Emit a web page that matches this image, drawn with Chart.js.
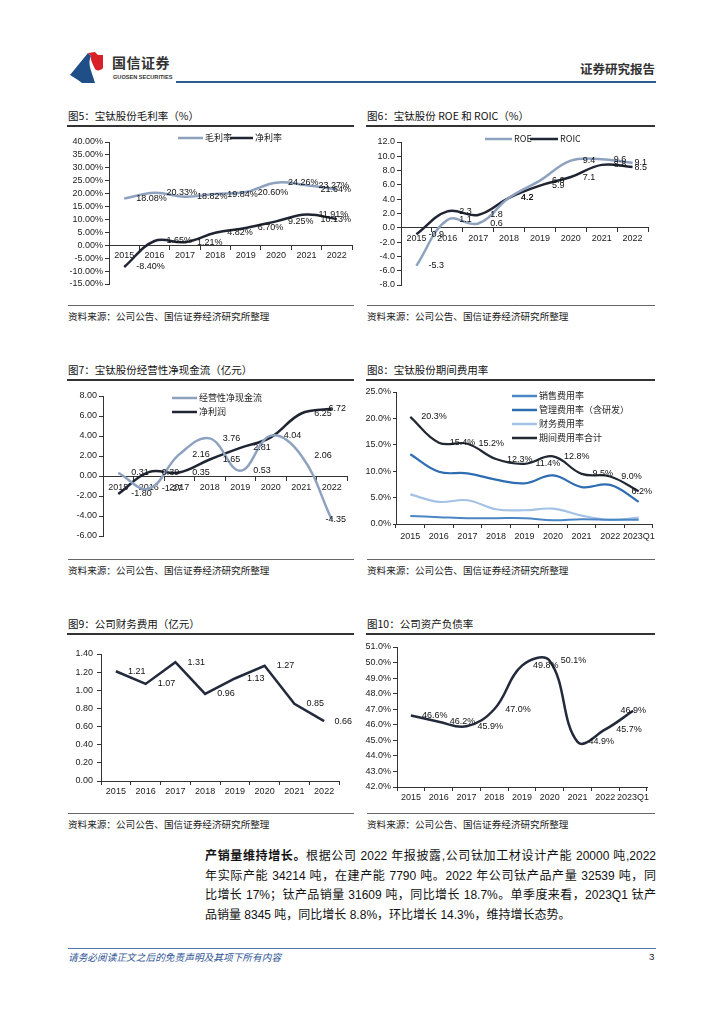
<!DOCTYPE html>
<html><head><meta charset="utf-8">
<script src="https://cdn.jsdelivr.net/npm/chart.js@4.4.1/dist/chart.umd.min.js"></script>
<style>
html,body{margin:0;padding:0;background:#fff;}
#page{position:relative;width:724px;height:1024px;overflow:hidden;font-family:"Noto Sans CJK SC","Liberation Sans",sans-serif;color:#222;background:#fff;}
.abs{position:absolute;white-space:nowrap;}
.title{font-size:10.5px;line-height:14px;color:#111;}
.rule{position:absolute;height:1.5px;background:#333;}
.sep{position:absolute;height:1px;background:#666;}
.src{font-size:9.6px;line-height:12px;color:#222;}
canvas{position:absolute;}
.para{position:absolute;left:205px;width:451px;font-size:12px;line-height:19.5px;font-family:"Liberation Sans","Noto Sans CJK SC",sans-serif;color:#111;}
.para div{text-align:justify;text-align-last:justify;}
.para div.last{text-align:left;text-align-last:left;}
</style>
</head>
<body>
<div id="page">
  <!-- header -->
  <svg class="abs" style="left:68px;top:50px" width="40" height="36" viewBox="0 0 40 36">
    <path d="M2,25 L20,3 L23,6 C19,14 24,22 27,33 L14,33 L10,30 Z" fill="#1f4f86"/>
    <path d="M20,3 L27,2 L30,5 L35,5 L35,18 C31,22 28,20 27,19 C25,14 22,10 23,6 Z" fill="#d7202a"/>
  </svg>
  <div class="abs" style="left:112px;top:53px;font-size:14px;line-height:18px;font-weight:bold;color:#333;letter-spacing:0.5px">国信证券</div>
  <div class="abs" style="left:113px;top:73px;font-size:5.6px;line-height:8px;color:#333;font-family:'Liberation Sans',sans-serif;font-weight:bold">GUOSEN SECURITIES</div>
  <div class="abs" style="left:176px;top:81px;width:480px;height:2px;background:#2b5c93"></div>
  <div class="abs" style="left:580px;top:61px;font-size:12.5px;line-height:16px;font-weight:bold;color:#333">证券研究报告</div>

  <!-- row 1 -->
  <div class="abs title" style="left:68px;top:109px">图5：宝钛股份毛利率（%）</div>
  <div class="rule" style="left:67px;top:125px;width:287px"></div>
  <div class="abs title" style="left:367px;top:109px">图6：宝钛股份 ROE 和 ROIC（%）</div>
  <div class="rule" style="left:366px;top:125px;width:289px"></div>
  <div class="sep" style="left:68px;top:305px;width:286px"></div>
  <div class="sep" style="left:367px;top:305px;width:288px"></div>
  <div class="abs src" style="left:68px;top:310px">资料来源：公司公告、国信证券经济研究所整理</div>
  <div class="abs src" style="left:367px;top:310px">资料来源：公司公告、国信证券经济研究所整理</div>

  <!-- row 2 -->
  <div class="abs title" style="left:68px;top:363px">图7：宝钛股份经营性净现金流（亿元）</div>
  <div class="rule" style="left:67px;top:379px;width:287px"></div>
  <div class="abs title" style="left:367px;top:363px">图8：宝钛股份期间费用率</div>
  <div class="rule" style="left:366px;top:379px;width:289px"></div>
  <div class="sep" style="left:68px;top:559px;width:286px"></div>
  <div class="sep" style="left:367px;top:559px;width:288px"></div>
  <div class="abs src" style="left:68px;top:564px">资料来源：公司公告、国信证券经济研究所整理</div>
  <div class="abs src" style="left:367px;top:564px">资料来源：公司公告、国信证券经济研究所整理</div>

  <!-- row 3 -->
  <div class="abs title" style="left:68px;top:617px">图9：公司财务费用（亿元）</div>
  <div class="rule" style="left:67px;top:633px;width:287px"></div>
  <div class="abs title" style="left:367px;top:617px">图10：公司资产负债率</div>
  <div class="rule" style="left:366px;top:633px;width:289px"></div>
  <div class="sep" style="left:68px;top:813px;width:286px"></div>
  <div class="sep" style="left:367px;top:813px;width:288px"></div>
  <div class="abs src" style="left:68px;top:818px">资料来源：公司公告、国信证券经济研究所整理</div>
  <div class="abs src" style="left:367px;top:818px">资料来源：公司公告、国信证券经济研究所整理</div>

  <!-- paragraph -->
  <div class="para" style="top:847px">
    <div><b>产销量维持增长。</b>根据公司 2022 年报披露,公司钛加工材设计产能 20000 吨,2022</div>
    <div>年实际产能 34214 吨，在建产能 7790 吨。2022 年公司钛产品产量 32539 吨，同</div>
    <div>比增长 17%；钛产品销量 31609 吨，同比增长 18.7%。单季度来看，2023Q1 钛产</div>
    <div class="last">品销量 8345 吨，同比增长 8.8%，环比增长 14.3%，维持增长态势。</div>
  </div>

  <!-- footer -->
  <div class="abs" style="left:68px;top:948px;width:588px;height:1px;background:#4f7ab0"></div>
  <div class="abs" style="left:68px;top:951px;font-size:9.7px;line-height:12px;font-style:italic;color:#2f5496">请务必阅读正文之后的免责声明及其项下所有内容</div>
  <div class="abs" style="left:649px;top:951px;font-size:9.7px;line-height:12px;color:#222;font-family:'Liberation Sans',sans-serif">3</div>
</div>

<script>
// ---------------- DATA ----------------
const years8 = ['2015','2016','2017','2018','2019','2020','2021','2022'];
const years9 = ['2015','2016','2017','2018','2019','2020','2021','2022','2023Q1'];

// 图5 毛利率 / 净利率 (%)
const grossMargin = [18.08, 20.33, 18.82, 19.84, 20.60, 24.26, 23.27, 21.64];
const netMargin   = [-8.40, 1.65, 1.21, 4.82, 6.70, 9.25, 11.91, 10.13];

// 图6 ROE / ROIC (%)
const roe  = [-5.3, 1.1, 0.6, 4.2, 6.6, 9.4, 9.6, 9.1];
const roic = [-0.9, 2.3, 1.8, 4.2, 5.9, 7.1, 8.8, 8.5];

// 图7 经营性净现金流 / 净利润 (亿元)
const opCashFlow = [0.31, -1.27, 2.16, 3.76, 0.53, 4.04, 2.06, -4.35];
const netProfit  = [-1.80, 0.39, 0.35, 1.65, 2.81, 3.86, 6.25, 6.72];

// 图8 期间费用率 (%)
const sellingRate   = [1.5, 1.3, 1.1, 1.1, 1.1, 0.7, 0.9, 0.8, 0.8];
const adminRate     = [13.2, 9.9, 9.6, 8.4, 7.7, 9.2, 7.0, 7.4, 4.2];
const financeRate   = [5.6, 4.2, 4.5, 2.8, 2.6, 2.9, 1.6, 0.8, 1.2];
const totalExpRate  = [20.3, 15.4, 15.2, 12.3, 11.4, 12.8, 9.5, 9.0, 6.2];

// 图9 财务费用 (亿元)
const financeCost = [1.21, 1.07, 1.31, 0.96, 1.13, 1.27, 0.85, 0.66];

// 图10 资产负债率 (%)
const debtRatio = [46.6, 46.2, 45.9, 47.0, 49.8, 50.1, 44.9, 45.7, 46.9];

// ---------------- STYLE ----------------
const NUM_FONT = '"Liberation Sans", "Noto Sans CJK SC", sans-serif';
const CJK_FONT = '"Noto Sans CJK SC", "Liberation Sans", sans-serif';
const LIGHT = '#8ea2bf';
const DARK  = '#1f2533';

// point value labels (Excel "right" position, kept inside a right limit)
const ptLabels = {
  id: 'ptLabels',
  afterDatasetsDraw(chart, args, opts) {
    if (!opts || !opts.format) return;
    const ctx = chart.ctx;
    const right = chart.chartArea.right + (opts.overflow || 0);
    ctx.save();
    ctx.font = '9px ' + NUM_FONT;
    ctx.fillStyle = '#111';
    ctx.textBaseline = 'middle';
    ctx.textAlign = 'left';
    chart.data.datasets.forEach((ds, di) => {
      if (!ds.showLabels) return;
      const meta = chart.getDatasetMeta(di);
      meta.data.forEach((pt, i) => {
        if (ds.skipLabels && ds.skipLabels.includes(i)) return;
        const txt = opts.format(ds.data[i]);
        const w = ctx.measureText(txt).width;
        let x = pt.x + (opts.dx || 12);
        if (x + w > right - 1) x = right - 1 - w;
        ctx.fillText(txt, x, pt.y);
      });
    });
    ctx.restore();
  }
};

// legend drawn at fixed page positions
const manualLegend = {
  id: 'manualLegend',
  afterDraw(chart, args, opts) {
    if (!opts || !opts.items) return;
    const ctx = chart.ctx;
    const ox = opts.origin[0], oy = opts.origin[1];
    ctx.save();
    ctx.font = '9px ' + CJK_FONT;
    ctx.textBaseline = 'middle';
    chart.data.datasets.forEach((ds, i) => {
      const it = opts.items[i];
      if (!it) return;
      const x = it[0] - ox, y = it[1] - oy, len = it[2];
      ctx.strokeStyle = ds.borderColor;
      ctx.lineWidth = 2.5;
      ctx.beginPath(); ctx.moveTo(x, y); ctx.lineTo(x + len, y); ctx.stroke();
      ctx.fillStyle = '#222';
      ctx.fillText(ds.label, x + len + 2, y);
    });
    ctx.restore();
  }
};
Chart.register(ptLabels, manualLegend);

const page = document.getElementById('page');
function makeCanvas(box) {
  const cv = document.createElement('canvas');
  cv.width = box.w; cv.height = box.h;
  cv.style.left = box.x + 'px'; cv.style.top = box.y + 'px';
  cv.style.width = box.w + 'px'; cv.style.height = box.h + 'px';
  page.appendChild(cv);
  return cv;
}
function yScale(min, max, step, fmt, width, tl, pad) {
  return {
    type: 'linear', position: 'left', min, max,
    ticks: { stepSize: step, autoSkip: false, maxTicksLimit: 50, callback: v => fmt(v),
             color: '#222', font: { size: 9, family: NUM_FONT }, padding: pad },
    grid: { drawOnChartArea: false, drawTicks: true, tickLength: tl, color: '#333', lineWidth: 1 },
    border: { display: true, color: '#333', width: 1 },
    afterFit(s) { s.width = width; }
  };
}
function xScale(position, pad, height) {
  const s = {
    type: 'category', position, offset: true,
    ticks: { autoSkip: false, maxRotation: 0, minRotation: 0, color: '#222',
             font: { size: 9, family: NUM_FONT }, padding: pad },
    grid: { offset: true, drawOnChartArea: false, drawTicks: true, tickLength: 4, color: '#333', lineWidth: 1 },
    border: { display: true, color: '#333', width: 1 }
  };
  if (height) s.afterFit = sc => { sc.height = height; };
  return s;
}
function line(label, data, color, width, tension, showLabels, extra) {
  return Object.assign({ label, data, borderColor: color, backgroundColor: color, borderWidth: width,
    pointRadius: 0, fill: false, tension, showLabels }, extra || {});
}
function baseOptions(padding, scales, plugins) {
  return {
    responsive: false, animation: false, events: [],
    layout: { padding },
    scales,
    plugins: Object.assign({ legend: { display: false }, tooltip: { enabled: false } }, plugins)
  };
}

// 图5
(function () {
  const box = { x: 62, y: 128, w: 296, h: 164 };
  new Chart(makeCanvas(box), {
    type: 'line',
    data: { labels: years8, datasets: [
      line('毛利率', grossMargin, LIGHT, 2.5, 0.4, true),
      line('净利率', netMargin, DARK, 2.5, 0.4, true)
    ]},
    options: baseOptions({ left: 0, top: 14, right: 6, bottom: 8 }, {
      x: xScale({ y: 0 }, 1),
      y: yScale(-15, 40, 5, v => v.toFixed(2) + '%', 47, 4, 2)
    }, {
      ptLabels: { format: v => v.toFixed(2) + '%', dx: 12 },
      manualLegend: { origin: [box.x, box.y], items: [[178, 138, 25], [230, 138, 23]] }
    })
  });
})();

// 图6
(function () {
  const box = { x: 362, y: 128, w: 296, h: 165 };
  new Chart(makeCanvas(box), {
    type: 'line',
    data: { labels: years8, datasets: [
      line('ROE', roe, LIGHT, 2.5, 0.4, true),
      line('ROIC', roic, DARK, 2.5, 0.4, true)
    ]},
    options: baseOptions({ left: 0, top: 14, right: 10, bottom: 8 }, {
      x: xScale({ y: 0 }, 1),
      y: yScale(-8, 12, 2, v => v.toFixed(1), 39, 4, 2)
    }, {
      ptLabels: { format: v => v.toFixed(1), dx: 12 },
      manualLegend: { origin: [box.x, box.y], items: [[485, 139, 27], [530, 139, 28]] }
    })
  });
})();

// 图7
(function () {
  const box = { x: 62, y: 382, w: 296, h: 162 };
  new Chart(makeCanvas(box), {
    type: 'line',
    data: { labels: years8, datasets: [
      line('经营性净现金流', opCashFlow, LIGHT, 2.5, 0.4, true),
      line('净利润', netProfit, DARK, 2.5, 0.4, true, { skipLabels: [5] })
    ]},
    options: baseOptions({ left: 0, top: 14, right: 11, bottom: 8 }, {
      x: xScale({ y: 0 }, 2),
      y: yScale(-6, 8, 2, v => v.toFixed(2), 41, 4, 2)
    }, {
      ptLabels: { format: v => v.toFixed(2), dx: 13 },
      manualLegend: { origin: [box.x, box.y], items: [[172, 398, 25], [172, 412, 25]] }
    })
  });
})();

// 图8
(function () {
  const box = { x: 362, y: 378, w: 296, h: 166 };
  new Chart(makeCanvas(box), {
    type: 'line',
    data: { labels: years9, datasets: [
      line('销售费用率', sellingRate, '#4a86c4', 2, 0.4, false),
      line('管理费用率（含研发）', adminRate, '#2f6db3', 2.2, 0.4, false),
      line('财务费用率', financeRate, '#a3c2e5', 2.2, 0.4, false),
      line('期间费用率合计', totalExpRate, '#222833', 2.2, 0.4, true)
    ]},
    options: baseOptions({ left: 0, top: 14, right: 5, bottom: 0 }, {
      x: xScale('bottom', 3, 20),
      y: yScale(0, 25, 5, v => v.toFixed(1) + '%', 34, 3, 2)
    }, {
      ptLabels: { format: v => v.toFixed(1) + '%', dx: 11 },
      manualLegend: { origin: [box.x, box.y], items: [[512, 396, 25], [512, 410, 25], [512, 424, 25], [512, 438, 25]] }
    })
  });
})();

// 图9
(function () {
  const box = { x: 62, y: 640, w: 296, h: 161 };
  new Chart(makeCanvas(box), {
    type: 'line',
    data: { labels: years8, datasets: [
      line('财务费用', financeCost, '#232a3b', 2.5, 0, true)
    ]},
    options: baseOptions({ left: 0, top: 14, right: 19, bottom: 0 }, {
      x: xScale('bottom', 1, 20),
      y: yScale(0, 1.4, 0.2, v => v.toFixed(2), 39, 4, 4)
    }, {
      ptLabels: { format: v => v.toFixed(2), dx: 12, overflow: 14 }
    })
  });
})();

// 图10
(function () {
  const box = { x: 362, y: 633, w: 296, h: 174 };
  new Chart(makeCanvas(box), {
    type: 'line',
    data: { labels: years9, datasets: [
      line('资产负债率', debtRatio, '#232a3b', 2.5, 0.4, true)
    ]},
    options: baseOptions({ left: 0, top: 14, right: 11, bottom: 0 }, {
      x: xScale('bottom', 1, 20),
      y: yScale(42, 51, 1, v => v.toFixed(1) + '%', 35, 4, 2)
    }, {
      ptLabels: { format: v => v.toFixed(1) + '%', dx: 11 }
    })
  });
})();
</script>
</body></html>
